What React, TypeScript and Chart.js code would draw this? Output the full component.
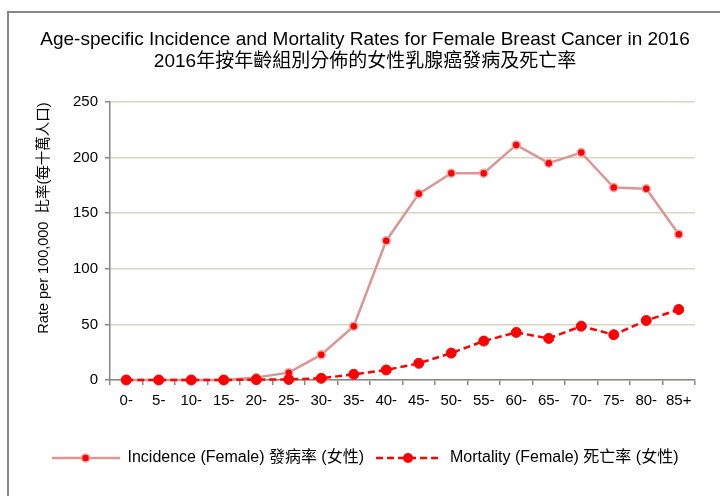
import React, { useEffect, useRef } from "react";
import { Chart, registerables } from "chart.js";

Chart.register(...registerables);

const TITLE_EN = "Age-specific Incidence and Mortality Rates for Female Breast Cancer in 2016";
const TITLE_ZH = "2016年按年齡組別分佈的女性乳腺癌發病及死亡率";
const Y_TITLE = "Rate per 100,000  比率(每十萬人口)";

const categories = ["0-", "5-", "10-", "15-", "20-", "25-", "30-", "35-", "40-", "45-", "50-", "55-", "60-", "65-", "70-", "75-", "80-", "85+"];
const incidence = [0, 0, 0, 0, 2.2, 6.6, 22.8, 48.4, 125.3, 167.4, 186, 186, 211.4, 195, 204.5, 173, 172, 131];
const mortality = [0, 0, 0, 0, 0.3, 0.5, 1.5, 5.1, 9, 15, 24.2, 35, 42.8, 37.4, 48.4, 40.7, 53.5, 63.4];
const seriesLabels = ["Incidence (Female) 發病率 (女性)", "Mortality (Female) 死亡率 (女性)"];
const yTicks = { min: 0, max: 250, step: 50 };

const FONT = '"Liberation Sans", Arial, "Noto Sans CJK TC", sans-serif';
const AXIS = "#878787";
const GRID = "#d9d5c0";
const INC_LINE = "#d99694";
const INC_PT_BORDER = "#e9a9a9";
const RED = "#ff0000";

function makeIcon(kind: number): HTMLCanvasElement {
  const c = document.createElement("canvas");
  c.width = 68;
  c.height = 14;
  const g = c.getContext("2d")!;
  g.lineWidth = 2.5;
  if (kind === 0) {
    g.strokeStyle = INC_LINE;
    g.beginPath();
    g.moveTo(0, 7);
    g.lineTo(68, 7);
    g.stroke();
    g.beginPath();
    g.arc(34, 7, 4, 0, Math.PI * 2);
    g.fillStyle = RED;
    g.fill();
    g.lineWidth = 1.5;
    g.strokeStyle = INC_PT_BORDER;
    g.stroke();
  } else {
    g.strokeStyle = RED;
    g.setLineDash([7, 4]);
    g.beginPath();
    g.moveTo(2, 7);
    g.lineTo(68, 7);
    g.stroke();
    g.setLineDash([]);
    g.beginPath();
    g.arc(34, 7, 5, 0, Math.PI * 2);
    g.fillStyle = RED;
    g.fill();
  }
  return c;
}

const yTitlePlugin = {
  id: "yTitlePlugin",
  afterDraw(chart: any) {
    const ctx = chart.ctx;
    ctx.save();
    ctx.translate(44, chart.chartArea.top + 116);
    ctx.rotate(-Math.PI / 2);
    ctx.textAlign = "center";
    ctx.textBaseline = "middle";
    ctx.fillStyle = "#000";
    ctx.font = `14.5px ${FONT}`;
    ctx.fillText(Y_TITLE, 0, 0);
    ctx.restore();
  },
};

export default function App() {
  const ref = useRef<HTMLCanvasElement>(null);

  useEffect(() => {
    const icons = [makeIcon(0), makeIcon(1)];
    const chart = new Chart(ref.current!, {
      type: "line",
      data: {
        labels: categories,
        datasets: [
          {
            label: seriesLabels[0],
            data: incidence,
            borderColor: INC_LINE,
            borderWidth: 2.5,
            pointRadius: 4,
            pointBackgroundColor: RED,
            pointBorderColor: INC_PT_BORDER,
            pointBorderWidth: 1.5,
            tension: 0,
            clip: false,
            order: 1,
          },
          {
            label: seriesLabels[1],
            data: mortality,
            borderColor: RED,
            borderWidth: 2.5,
            borderDash: [7, 4],
            pointRadius: 5,
            pointBackgroundColor: RED,
            pointBorderColor: RED,
            pointBorderWidth: 1,
            tension: 0,
            clip: false,
            order: 0,
          },
        ],
      },
      options: {
        responsive: false,
        animation: false,
        devicePixelRatio: 1,
        layout: { padding: { top: 0, left: 0, right: 0, bottom: 20 } },
        plugins: {
          title: {
            display: true,
            text: [TITLE_EN, TITLE_ZH],
            color: "#000",
            font: { family: FONT, size: 19, weight: "normal", lineHeight: "22px" },
            padding: { top: 29, bottom: 29 },
          },
          legend: {
            display: true,
            position: "bottom",
            align: "center",
            labels: {
              usePointStyle: true,
              pointStyleWidth: 68,
              color: "#000",
              padding: 10,
              font: { family: FONT, size: 16 },
              generateLabels: () =>
                seriesLabels.map((text, i) => ({
                  text,
                  fillStyle: "transparent",
                  strokeStyle: "transparent",
                  lineWidth: 0,
                  pointStyle: icons[i],
                  hidden: false,
                  datasetIndex: i,
                  fontColor: "#000",
                })),
            },
          },
          tooltip: { enabled: false },
        },
        scales: {
          x: {
            type: "category",
            offset: true,
            grid: {
              display: true,
              drawOnChartArea: false,
              drawTicks: true,
              tickLength: 5,
              offset: true,
              color: AXIS,
              lineWidth: 1.5,
            },
            border: { display: true, color: AXIS, width: 1.5 },
            ticks: {
              color: "#000",
              font: { family: FONT, size: 15 },
              padding: 7,
              maxRotation: 0,
              autoSkip: false,
            },
            afterFit: (s: any) => {
              s.height = 60;
            },
          },
          y: {
            type: "linear",
            min: yTicks.min,
            max: yTicks.max,
            ticks: {
              stepSize: yTicks.step,
              color: "#000",
              font: { family: FONT, size: 15 },
              padding: 7,
            },
            grid: {
              color: GRID,
              lineWidth: 1.5,
              drawTicks: true,
              tickLength: 5,
              tickColor: AXIS,
            },
            border: { display: true, color: AXIS, width: 1.5 },
            afterFit: (s: any) => {
              s.width = 110;
            },
          },
          yR: {
            type: "linear",
            position: "right",
            display: true,
            grid: { display: false, drawTicks: false },
            border: { display: false },
            ticks: { display: false },
            afterFit: (s: any) => {
              s.width = 35;
            },
          },
        },
      },
      plugins: [yTitlePlugin],
    } as any);
    return () => chart.destroy();
  }, []);

  return (
    <div
      style={{
        position: "fixed",
        left: 0,
        top: 0,
        width: 720,
        height: 496,
        overflow: "hidden",
        background: "#fff",
      }}
    >
      <div
        style={{
          position: "absolute",
          left: 7,
          top: 11,
          width: 800,
          height: 600,
          border: `2px solid ${AXIS}`,
        }}
      />
      <canvas
        ref={ref}
        width={730}
        height={496}
        style={{ position: "absolute", left: 0, top: 0, width: 730, height: 496 }}
      />
    </div>
  );
}
